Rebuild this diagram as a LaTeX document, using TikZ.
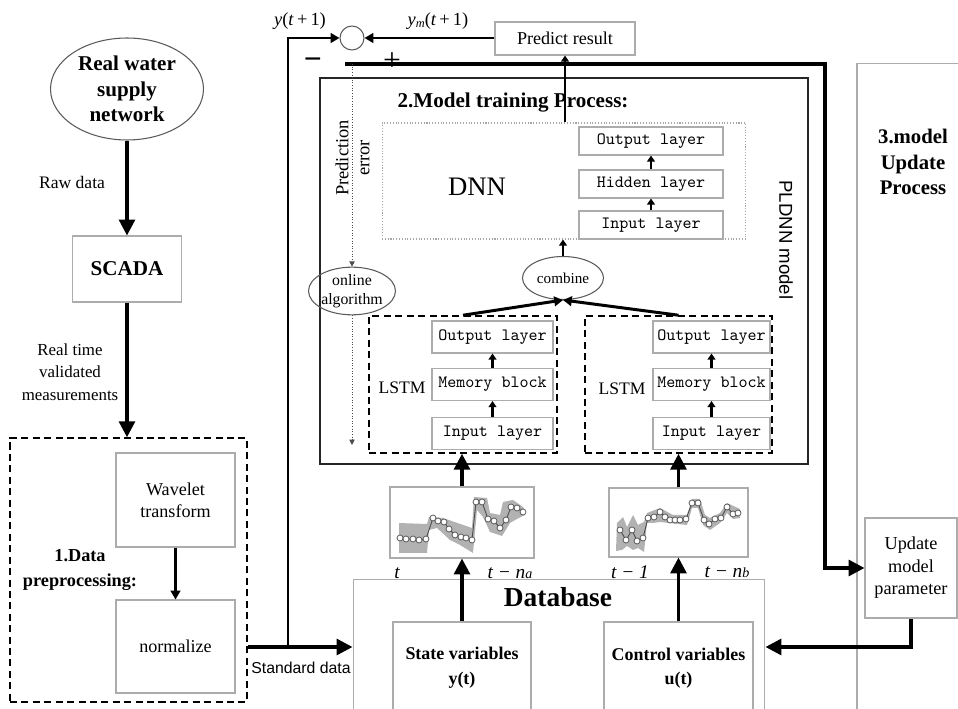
\documentclass[tikz,border=0pt]{standalone}
\usepackage{fontspec}
\setmainfont{Liberation Serif}
\setsansfont{Liberation Sans}
\usetikzlibrary{arrows.meta,shapes.geometric}

\newcommand{\fsz}[2]{\fontsize{#1}{#2}\selectfont}

\tikzset{
  box/.style={draw=gray!65, line width=0.6pt, align=center, inner sep=0pt},
  layer/.style={box, font=\ttfamily\fsz{9.8}{12}},
  dashbox/.style={draw, line width=0.9pt, dash pattern=on 4pt off 2.5pt, inner sep=0pt},
  oval/.style={ellipse, draw=gray!70!black, line width=0.6pt, align=center, inner sep=0pt},
  flow/.style={line width=1.9pt, -{Triangle[length=9pt,width=9pt]}},
  midflow/.style={line width=1.7pt, -{Triangle[length=5pt,width=5.5pt]}},
  layflow/.style={line width=1.4pt, -{Triangle[length=3.5pt,width=4.5pt]}},
  dotflow/.style={draw=gray!60!black, densely dotted, line width=0.5pt, -{Triangle[length=3pt,width=3pt]}},
  datapts/.style={draw=black!70, line width=0.5pt, mark=*, mark size=1.7pt,
    mark options={fill=white, draw=black!70, line width=0.4pt, solid}},
}

\begin{document}
\begin{tikzpicture}[x=0.02cm, y=-0.02cm]
\useasboundingbox (0,0) rectangle (958,709);

% source and SCADA
\node[oval, minimum width=3.06cm, minimum height=2.04cm, font=\bfseries\fsz{12}{14.5}] (net) at (127,89) {Real water\\supply\\network};
\node[box, minimum width=2.18cm, minimum height=1.32cm, font=\bfseries\fsz{12}{14}] (scada) at (127,269) {SCADA};
\node[font=\fsz{10}{12}] (rawlbl) at (72,182) {Raw data};
\node[align=center, font=\fsz{9.6}{12.8}] (rtlbl) at (70,372) {Real time\\validated\\measurements};

% 1. preprocessing
\node[dashbox, minimum width=4.74cm, minimum height=5.28cm] (prep) at (128.5,570) {};
\node[box, minimum width=2.38cm, minimum height=1.88cm, font=\fsz{10.3}{12.5}] (wav) at (175.5,500) {Wavelet\\transform};
\node[box, minimum width=2.38cm, minimum height=1.86cm, font=\fsz{10.3}{12.5}] (norm) at (175.5,646.5) {normalize};
\node[align=center, font=\bfseries\fsz{10.4}{14}] (preplbl) at (80,570) {1.Data\\preprocessing:};
\node[font=\sffamily\fsz{9}{11}] (stdlbl) at (301,668) {Standard data};

% database
\node[box, minimum width=8.24cm, minimum height=2.7cm] (db) at (559,647) {};
\node[font=\bfseries\fsz{15.6}{18}] (dbtitle) at (558,597) {Database};
\node[box, minimum width=2.76cm, minimum height=1.84cm, font=\bfseries\fsz{10.2}{14}] (state) at (462,668) {State variables\\y(t)};
\node[box, minimum width=2.98cm, minimum height=1.84cm, font=\bfseries\fsz{10.2}{14}] (ctrl) at (678.5,668) {Control variables\\u(t)};

% sample windows
\node[box, minimum width=2.88cm, minimum height=1.42cm] (chartA) at (462,522.5) {};
\node[box, minimum width=2.78cm, minimum height=1.38cm] (chartB) at (678.5,522.5) {};
\fill[gray!60] (399,523) -- (427,524) -- (429,517) -- (443,518) -- (472,528) -- (474,497) -- (487,498)
  -- (490,513) -- (500,515) -- (503,502) -- (513,500) -- (523,507) -- (525,510) -- (525,515) -- (517,519)
  -- (510,523) -- (502,536) -- (490,532) -- (483,517) -- (477,510) -- (473,553) -- (460,545) -- (450,540)
  -- (437,528) -- (429,530) -- (427,553) -- (399,553) -- cycle;
\draw[datapts] plot coordinates {(400,538) (406,539) (413,539) (419,540) (426,539) (433,518) (438,521)
  (444,522) (449,529) (455,535) (461,537) (466,538) (472,540) (476,502) (482,502) (488,519) (494,521)
  (500,528) (506,520) (511,507) (517,508) (523,512)};
\fill[gray!60] (617,523) -- (623,517) -- (627,527) -- (633,515) -- (638,525) -- (644,522) -- (647,513)
  -- (660,508) -- (673,515) -- (687,515) -- (692,499) -- (700,499) -- (705,515) -- (710,518) -- (720,513)
  -- (727,503) -- (740,509) -- (740,518) -- (733,519) -- (727,513) -- (720,523) -- (710,530) -- (703,525)
  -- (698,508) -- (692,508) -- (687,525) -- (660,522) -- (653,523) -- (647,523) -- (644,552) -- (638,548)
  -- (633,550) -- (627,546) -- (622,550) -- (616,551) -- cycle;
\draw[datapts] plot coordinates {(620,530) (626,540) (632,530) (637,541) (643,538) (648,518) (654,517)
  (660,512) (665,517) (670,520) (675,520) (680,520) (686,519) (692,503) (698,503) (704,520) (709,524)
  (715,519) (721,518) (727,507) (733,514) (738,513)};
\node[font=\itshape\fsz{11}{13}] (tA1) at (397,573) {t};
\node[font=\itshape\fsz{11}{13}] (tA2) at (510,573) {t − n{\fsz{8}{10}a}};
\node[font=\itshape\fsz{11}{13}] (tB1) at (630,572) {t − 1};
\node[font=\itshape\fsz{11}{13}] (tB2) at (727,572) {t − n{\fsz{8}{10}b}};

% 2. model training
\node[draw=black!85, line width=0.9pt, minimum width=9.76cm, minimum height=7.72cm] (train) at (564,271) {};
\node[font=\bfseries\fsz{12}{14}] (trainlbl) at (513,103) {2.Model training Process:};
\node[font=\sffamily\fsz{10.6}{12}, rotate=-90] (pldnn) at (786,240) {PLDNN model};
\node[draw=gray!70, densely dotted, line width=0.6pt, minimum width=7.28cm, minimum height=2.32cm] (dnnbox) at (564,181) {};
\node[font=\fsz{15.2}{18}] (dnnlbl) at (477,187) {DNN};
\node[layer, minimum width=2.88cm, minimum height=0.56cm] (dout) at (651,141) {Output layer};
\node[layer, minimum width=2.88cm, minimum height=0.56cm] (dhid) at (651,184) {Hidden layer};
\node[layer, minimum width=2.88cm, minimum height=0.56cm] (din) at (651,225) {Input layer};
\node[oval, minimum width=1.62cm, minimum height=0.86cm, font=\fsz{8.6}{10}] (comb) at (563,278) {combine};
\node[oval, minimum width=1.64cm, minimum height=0.94cm, font=\fsz{9}{11}] (online) at (352,291) {online\\algorithm};
\node[fill=white, rotate=90, align=center, inner sep=1pt, font=\fsz{10.5}{12}] (errlbl) at (352.5,158) {Prediction\\error};

% the two LSTM branches
\node[dashbox, minimum width=3.76cm, minimum height=2.74cm] (lstmA) at (463,384.5) {};
\node[dashbox, minimum width=3.74cm, minimum height=2.74cm] (lstmB) at (678.5,384.5) {};
\node[font=\fsz{10}{12}] (lstmAlbl) at (402,388) {LSTM};
\node[font=\fsz{10}{12}] (lstmBlbl) at (622,389) {LSTM};
\node[layer, minimum width=2.42cm, minimum height=0.64cm] (aout) at (492.5,337) {Output layer};
\node[layer, minimum width=2.42cm, minimum height=0.64cm] (amem) at (492.5,384.5) {Memory block};
\node[layer, minimum width=2.42cm, minimum height=0.64cm] (ain) at (492.5,433.5) {Input layer};
\node[layer, minimum width=2.34cm, minimum height=0.64cm] (bout) at (711.5,337) {Output layer};
\node[layer, minimum width=2.34cm, minimum height=0.64cm] (bmem) at (711.5,384.5) {Memory block};
\node[layer, minimum width=2.34cm, minimum height=0.64cm] (bin) at (711.5,433.5) {Input layer};

% prediction and error
\node[box, minimum width=2.8cm, minimum height=0.66cm, font=\fsz{10.3}{12}] (pred) at (565,38.5) {Predict result};
\node[circle, draw=gray!70!black, line width=0.6pt, minimum size=0.48cm, inner sep=0pt] (sum) at (352,38) {};
\node[font=\fsz{10.5}{12}] (ylbl) at (300,21) {\textit{y}(\textit{t}\,+\,1)};
\node[font=\fsz{10.5}{12}] (ymlbl) at (438,21) {\textit{y}\raisebox{-0.25ex}{\fsz{7}{8}\textit{m}}(\textit{t}\,+\,1)};
\node[font=\bfseries\fsz{18}{18}] (minus) at (313,64) {−};
\node[font=\fsz{18}{18}] (plus) at (392,62) {+};

% 3. update
\node[box, minimum width=2.14cm, minimum height=13.02cm] (upbox) at (910.5,388.5) {};
\node[align=center, font=\bfseries\fsz{11.8}{14.3}] (uplbl) at (913,162) {3.model\\Update\\Process};
\node[box, minimum width=1.84cm, minimum height=2cm, font=\fsz{10.4}{12.8}] (upd) at (911,568) {Update\\model\\parameter};

% connectors
\coordinate (jn) at (288,647);
\coordinate (fbL) at (345,64);
\coordinate (fbR) at (825,64);
\coordinate (errT) at (352,64);
\coordinate (errB) at (352,445);

\draw[flow] (net) -- (scada);
\draw[flow] (scada.south) -- (scada.south |- prep.north);
\draw[midflow] (wav) -- (norm);
\draw[flow] (prep.east |- db.west) -- (db.west);
\draw[midflow] (jn) |- (sum.west);
\draw[midflow] (pred.west |- sum.east) -- (sum.east);
\draw[flow] (fbL) -- (fbR) |- (upd.west);
\draw[flow] (upd.south) |- (db.east);
\draw[layflow] (pred.south |- dnnbox.north) -- (pred.south);
\draw[dotflow] (errT) -- (online.north);
\draw[dotflow] (online.south) -- (errB);
\draw[layflow] (comb.north) -- (comb.north |- dnnbox.south);
\draw[midflow] (lstmA.north) -- (comb.south);
\draw[midflow] (lstmB.north) -- (comb.south);
\draw[layflow] (din) -- (dhid);
\draw[layflow] (dhid) -- (dout);
\draw[layflow] (ain) -- (amem);
\draw[layflow] (amem) -- (aout);
\draw[layflow] (bin) -- (bmem);
\draw[layflow] (bmem) -- (bout);
\draw[flow] (chartA.north) -- (chartA.north |- lstmA.south);
\draw[flow] (chartB.north) -- (chartB.north |- lstmB.south);
\draw[flow] (state.north) -- (state.north |- chartA.south);
\draw[flow] (ctrl.north) -- (ctrl.north |- chartB.south);
\end{tikzpicture}
\end{document}
